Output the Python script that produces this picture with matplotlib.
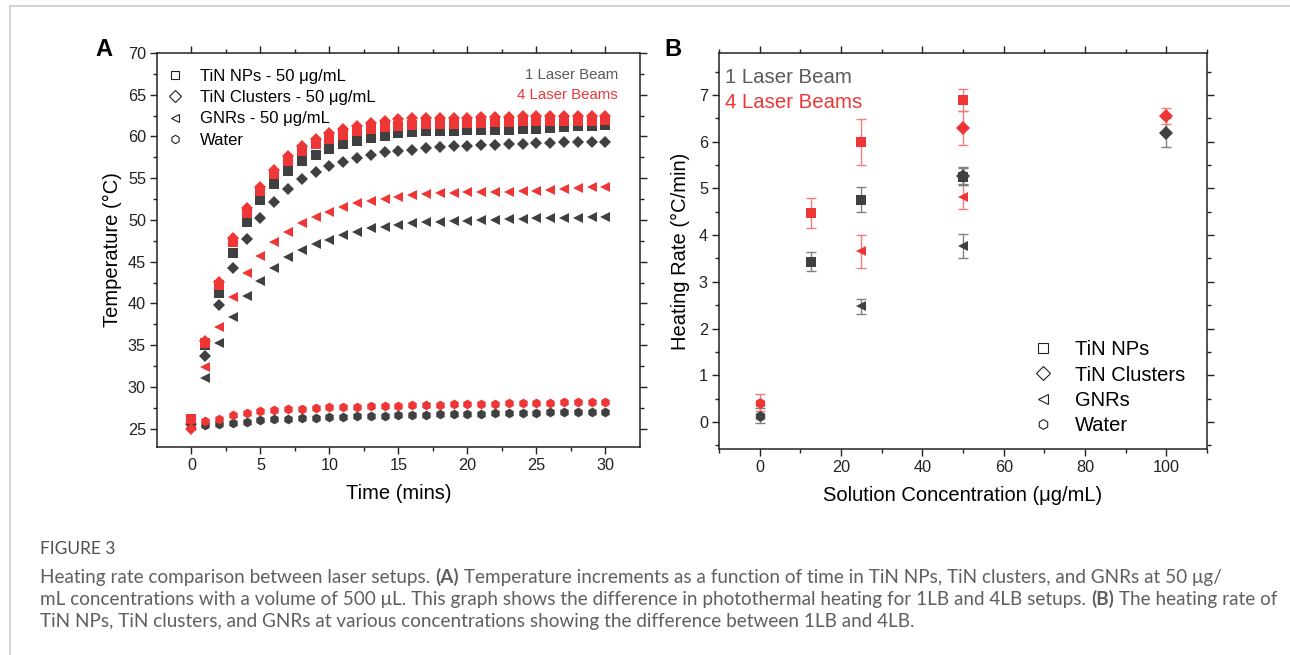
import numpy as np
import matplotlib
matplotlib.use("Agg")
import matplotlib.pyplot as plt
from matplotlib.lines import Line2D

plt.rcParams["font.family"] = ["Liberation Sans", "DejaVu Sans"]

RED = "#ee3636"
DARK = "#404040"
RED_ERR = "#f07c7c"
DARK_ERR = "#808080"

# ---- panel A: temperature vs time (50 ug/mL) ----
time_min = list(range(31))
nps_1lb = [26.0, 35.0, 41.2, 46.0, 49.7, 52.4, 54.3, 55.9, 57.1, 57.8, 58.5, 59.1, 59.4, 59.8, 60.1, 60.4,
           60.5, 60.6, 60.7, 60.7, 60.8, 60.8, 60.8, 60.8, 60.9, 60.9, 61.0, 61.1, 61.2, 61.3, 61.4]
nps_4lb = [26.2, 35.3, 42.2, 47.3, 50.8, 53.5, 55.5, 57.1, 58.3, 59.1, 59.7, 60.2, 60.6, 60.9, 61.1, 61.3,
           61.4, 61.5, 61.5, 61.5, 61.6, 61.6, 61.7, 61.7, 61.8, 61.8, 61.8, 61.9, 61.9, 61.9, 62.0]
clusters_1lb = [25.6, 33.7, 39.8, 44.2, 47.7, 50.2, 52.2, 53.7, 54.9, 55.8, 56.5, 57.0, 57.4, 57.8, 58.1, 58.3,
                58.4, 58.6, 58.7, 58.8, 58.9, 59.0, 59.0, 59.1, 59.1, 59.2, 59.2, 59.3, 59.3, 59.3, 59.3]
clusters_4lb = [25.0, 35.5, 42.6, 47.8, 51.4, 54.0, 56.0, 57.7, 58.9, 59.7, 60.4, 60.9, 61.3, 61.6, 61.9, 62.1,
                62.2, 62.2, 62.2, 62.2, 62.2, 62.3, 62.3, 62.3, 62.4, 62.4, 62.4, 62.4, 62.4, 62.4, 62.5]
gnrs_1lb = [25.5, 31.1, 35.2, 38.4, 40.9, 42.7, 44.3, 45.5, 46.4, 47.1, 47.6, 48.2, 48.6, 49.0, 49.2, 49.4,
            49.6, 49.7, 49.8, 49.9, 49.9, 50.0, 50.0, 50.1, 50.1, 50.2, 50.2, 50.2, 50.2, 50.3, 50.3]
gnrs_4lb = [25.3, 32.4, 37.2, 40.8, 43.6, 45.7, 47.3, 48.6, 49.6, 50.3, 51.0, 51.5, 52.0, 52.3, 52.5, 52.8,
            53.0, 53.1, 53.2, 53.2, 53.3, 53.3, 53.4, 53.4, 53.5, 53.5, 53.6, 53.7, 53.8, 53.9, 54.0]
water_1lb = [25.7, 25.4, 25.6, 25.7, 25.85, 26.05, 26.13, 26.2, 26.25, 26.33, 26.37, 26.42, 26.46, 26.5, 26.54,
             26.58, 26.62, 26.66, 26.7, 26.73, 26.76, 26.79, 26.82, 26.85, 26.88, 26.9, 26.93, 26.95, 26.97,
             26.99, 27.0]
water_4lb = [25.5, 25.9, 26.2, 26.6, 26.85, 27.05, 27.17, 27.3, 27.37, 27.45, 27.53, 27.58, 27.62, 27.66, 27.7,
             27.74, 27.78, 27.82, 27.86, 27.9, 27.93, 27.96, 27.99, 28.02, 28.05, 28.08, 28.1, 28.13, 28.15,
             28.18, 28.2]

legend_a = ["TiN NPs - 50 μg/mL", "TiN Clusters - 50 μg/mL", "GNRs - 50 μg/mL", "Water"]

# ---- panel B: heating rate vs concentration ----
nps_conc = [12.5, 25, 50]
nps_rate_1lb = [3.43, 4.76, 5.25]
nps_err_1lb = [0.20, 0.27, 0.18]
nps_rate_4lb = [4.47, 6.00, 6.89]
nps_err_4lb = [0.32, 0.49, 0.24]

clusters_conc = [50, 100]
clusters_rate_1lb = [5.27, 6.19]
clusters_err_1lb = [0.18, 0.31]
clusters_rate_4lb = [6.29, 6.55]
clusters_err_4lb = [0.36, 0.17]

gnrs_conc = [25, 50]
gnrs_rate_1lb = [2.48, 3.77]
gnrs_err_1lb = [0.16, 0.25]
gnrs_rate_4lb = [3.65, 4.82]
gnrs_err_4lb = [0.35, 0.26]

water_conc = [0]
water_rate_1lb = [0.13]
water_err_1lb = [0.16]
water_rate_4lb = [0.41]
water_err_4lb = [0.18]

legend_b = ["TiN NPs", "TiN Clusters", "GNRs", "Water"]
markers = ["s", "D", "<", "h"]


def style_axes(ax):
    for sp in ax.spines.values():
        sp.set_linewidth(1.1)
        sp.set_color("#222222")
    ax.tick_params(which="both", direction="out", top=True, right=True, colors="#222222",
                   labelsize=11.7, width=1.0)
    ax.tick_params(which="major", length=5, pad=3)
    ax.tick_params(which="minor", length=3)
    ax.tick_params(top=True, labeltop=False, right=True, labelright=False)


def open_handles(ms):
    return [Line2D([], [], linestyle="none", marker=m, markersize=ms, markerfacecolor="white",
                   markeredgecolor="#222222", markeredgewidth=0.8) for m in markers]


fig = plt.figure(figsize=(12.9, 6.55), dpi=100)

# ---------------- panel A ----------------
ax1 = fig.add_axes([0.1217, 0.3176, 0.3744, 0.6015])
ms_a = 7
order = [
    (water_1lb, "h", DARK), (water_4lb, "h", RED),
    (gnrs_1lb, "<", DARK), (gnrs_4lb, "<", RED),
    (clusters_1lb, "D", DARK), (nps_1lb, "s", DARK),
    (nps_4lb, "s", RED), (clusters_4lb, "D", RED),
]
for vals, mk, col in order:
    size = ms_a - 0.5 if mk == "D" else ms_a
    ax1.plot(time_min, vals, linestyle="none", marker=mk, markersize=size,
             color=col, markeredgewidth=0)

ax1.set_xlim(-2.5, 32.5)
ax1.set_ylim(22.8, 70)
ax1.set_xticks(np.arange(0, 31, 5))
ax1.set_xticks(np.arange(2.5, 31, 5), minor=True)
ax1.set_yticks(np.arange(25, 71, 5))
ax1.set_yticks(np.arange(27.5, 70, 5), minor=True)
style_axes(ax1)
ax1.set_xlabel("Time (mins)", fontsize=14.5, labelpad=8)
ax1.set_ylabel("Temperature (°C)", fontsize=14.5, labelpad=4)

ax1.legend(open_handles(6), legend_a, loc="upper left", bbox_to_anchor=(0.02, 0.96),
           frameon=False, fontsize=12, handlelength=0.95, handletextpad=1.05,
           labelspacing=0.38, borderpad=0, borderaxespad=0)
ax1.text(0.955, 0.944, "1 Laser Beam", transform=ax1.transAxes, ha="right", va="center",
         fontsize=10.8, color="#5a5a5a")
ax1.text(0.955, 0.893, "4 Laser Beams", transform=ax1.transAxes, ha="right", va="center",
         fontsize=10.8, color=RED)
fig.text(0.0805, 0.925, "A", fontsize=17, fontweight="bold", ha="center", va="center")

# ---------------- panel B ----------------
ax2 = fig.add_axes([0.5574, 0.3145, 0.3783, 0.6046])
ms_b = 7.8
groups = [
    (water_conc, water_rate_1lb, water_err_1lb, water_rate_4lb, water_err_4lb, "h"),
    (gnrs_conc, gnrs_rate_1lb, gnrs_err_1lb, gnrs_rate_4lb, gnrs_err_4lb, "<"),
    (nps_conc, nps_rate_1lb, nps_err_1lb, nps_rate_4lb, nps_err_4lb, "s"),
    (clusters_conc, clusters_rate_1lb, clusters_err_1lb, clusters_rate_4lb, clusters_err_4lb, "D"),
]
for conc, r1, e1, r4, e4, mk in groups:
    size = ms_b - 0.5 if mk == "D" else ms_b
    for rate, err, col, ecol in [(r1, e1, DARK, DARK_ERR), (r4, e4, RED, RED_ERR)]:
        eb = ax2.errorbar(conc, rate, yerr=err, linestyle="none", marker=mk, markersize=size,
                          color=col, ecolor=ecol, elinewidth=1.0, capsize=3.6, capthick=1.0)
        # no edge on the filled point itself; caps keep their own width
        eb[0].set_markeredgewidth(0)

ax2.set_xlim(-10, 110)
ax2.set_ylim(-0.58, 7.9)
ax2.set_xticks(np.arange(0, 101, 20))
ax2.set_xticks(np.arange(-10, 111, 10), minor=True)
ax2.set_yticks(np.arange(0, 8, 1))
ax2.set_yticks(np.arange(-0.5, 7.9, 0.5), minor=True)
style_axes(ax2)
ax2.set_xlabel("Solution Concentration (μg/mL)", fontsize=14.5, labelpad=8)
ax2.set_ylabel("Heating Rate (°C/min)", fontsize=14.5, labelpad=6)

ax2.legend(open_handles(7), legend_b, loc="upper left", bbox_to_anchor=(0.643, 0.275),
           frameon=False, fontsize=14.5, handlelength=1.0, handletextpad=1.1,
           labelspacing=0.32, borderpad=0, borderaxespad=0)
ax2.text(0.012, 0.938, "1 Laser Beam", transform=ax2.transAxes, ha="left", va="center",
         fontsize=14.7, color="#5a5a5a")
ax2.text(0.012, 0.874, "4 Laser Beams", transform=ax2.transAxes, ha="left", va="center",
         fontsize=14.7, color=RED)
fig.text(0.5215, 0.925, "B", fontsize=17, fontweight="bold", ha="center", va="center")

# ---------------- page frame + caption ----------------
fig.add_artist(Line2D([9.5 / 1290, 1.0], [1 - 5.5 / 655, 1 - 5.5 / 655], color="#cccccc", lw=1.2))
fig.add_artist(Line2D([9.5 / 1290, 9.5 / 1290], [0.0, 1 - 5.5 / 655], color="#cccccc", lw=1.2))

cap_font = ["Lato", "DejaVu Sans"]
cap_color = "#5f5f5f"
fig.text(40 / 1290, 1 - 549 / 655, "FIGURE 3", fontsize=12.5, color="#4f4f4f", family=cap_font,
         ha="left", va="center")

caption_lines = [
    [("Heating rate comparison between laser setups. ", False), ("(A)", True),
     (" Temperature increments as a function of time in TiN NPs, TiN clusters, and GNRs at 50 μg/", False)],
    [("mL concentrations with a volume of 500 μL. This graph shows the difference in photothermal "
      "heating for 1LB and 4LB setups. ", False), ("(B)", True), (" The heating rate of", False)],
    [("TiN NPs, TiN clusters, and GNRs at various concentrations showing the difference between "
      "1LB and 4LB.", False)],
]
caption_y = [577, 599, 621]

renderer = fig.canvas.get_renderer()
for parts, ypx in zip(caption_lines, caption_y):
    x = 40 / 1290
    for txt, bold in parts:
        t = fig.text(x, 1 - ypx / 655, txt, fontsize=13.6, color=cap_color, family=cap_font,
                     fontweight="bold" if bold else "normal", ha="left", va="center")
        x += t.get_window_extent(renderer).width / fig.bbox.width

fig.savefig("out.png", dpi=100)
